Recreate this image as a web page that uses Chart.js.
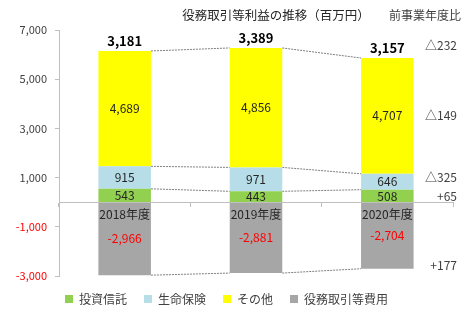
<!DOCTYPE html>
<html><head><meta charset="utf-8">
<script src="https://cdn.jsdelivr.net/npm/chart.js@4/dist/chart.umd.min.js"></script>
<style>html,body{margin:0;padding:0;background:#fff}#wrap{width:467px;height:325px;position:relative}</style>
</head><body><div id="wrap"><canvas id="c" width="467" height="325"></canvas></div>
<script>
const categories = ['2018年度', '2019年度', '2020年度'];
const seriesNames = ['投資信託', '生命保険', 'その他', '役務取引等費用'];
const investmentTrusts = [543, 443, 508];
const lifeInsurance = [915, 971, 646];
const others = [4689, 4856, 4707];
const costs = [-2966, -2881, -2704];
const totals = [3181, 3389, 3157];
const changeLabels = ['△232', '△149', '△325', '+65', '+177'];
const yTicks = [-3000, -1000, 1000, 3000, 5000, 7000];
const titleText = '役務取引等利益の推移（百万円）';
const changeHeader = '前事業年度比';

const FONT = '"Noto Sans CJK JP", "Noto Sans", sans-serif';
const fmt = v => v.toLocaleString('en-US');

const legendFitPlugin = {
  id: 'legendFit',
  beforeLayout(chart) {
    const lg = chart.legend;
    if (lg && !lg._patched) {
      const orig = lg.fit;
      lg.fit = function () { orig.call(this); this.height = 49; };
      lg._patched = true;
    }
  }
};

const connectorPlugin = {
  id: 'connectors',
  beforeDatasetsDraw(chart) {
    const ctx = chart.ctx;
    ctx.save();
    ctx.strokeStyle = '#7F7F7F';
    ctx.lineWidth = 1;
    ctx.setLineDash([2, 1]);
    chart.data.datasets.forEach((ds, di) => {
      const els = chart.getDatasetMeta(di).data;
      for (let i = 0; i < els.length - 1; i++) {
        const a = els[i], b = els[i + 1];
        ctx.beginPath();
        ctx.moveTo(a.x + a.width / 2, a.y);
        ctx.lineTo(b.x - b.width / 2, b.y);
        ctx.stroke();
      }
    });
    ctx.restore();
  }
};

const labelPlugin = {
  id: 'valueLabels',
  afterDatasetsDraw(chart) {
    const ctx = chart.ctx;
    ctx.save();
    ctx.textAlign = 'center';
    ctx.textBaseline = 'middle';
    chart.data.datasets.forEach((ds, di) => {
      chart.getDatasetMeta(di).data.forEach((el, i) => {
        const v = ds.data[i];
        ctx.font = '12px ' + FONT;
        ctx.fillStyle = v < 0 ? '#FF0000' : '#262626';
        ctx.fillText(fmt(v), el.x, (el.y + el.base) / 2);
      });
    });
    // totals
    const topEls = chart.getDatasetMeta(2).data;
    ctx.font = 'bold 13px ' + FONT;
    ctx.fillStyle = '#000000';
    totals.forEach((t, i) => {
      ctx.fillText(fmt(t), topEls[i].x, topEls[i].y - 10);
    });
    // change labels (vs previous year), anchored at last category's segments
    const last = categories.length - 1;
    const ca = chart.chartArea;
    const mid = di => { const e = chart.getDatasetMeta(di).data[last]; return (e.y + e.base) / 2; };
    const anchors = [topEls[last].y - 13, mid(2), mid(1) - 4, mid(0), mid(3) + 30];
    ctx.font = '12px ' + FONT;
    ctx.fillStyle = '#404040';
    ctx.textAlign = 'right';
    changeLabels.forEach((s, k) => ctx.fillText(s, ca.right + 4, anchors[k]));
    // title and header
    ctx.textAlign = 'center';
    ctx.font = '12.5px ' + FONT;
    ctx.fillStyle = '#262626';
    ctx.fillText(titleText, 276, 15);
    ctx.font = '12px ' + FONT;
    ctx.fillStyle = '#404040';
    ctx.fillText(changeHeader, 425, 15);
    ctx.restore();
  }
};

new Chart(document.getElementById('c'), {
  type: 'bar',
  data: {
    labels: categories,
    datasets: [
      { label: seriesNames[0], data: investmentTrusts, backgroundColor: '#92D050' },
      { label: seriesNames[1], data: lifeInsurance, backgroundColor: '#B7DEE8' },
      { label: seriesNames[2], data: others, backgroundColor: '#FFFF00' },
      { label: seriesNames[3], data: costs, backgroundColor: '#A6A6A6' }
    ]
  },
  options: {
    responsive: false,
    animation: false,
    devicePixelRatio: 1,
    datasets: { bar: { categoryPercentage: 1, barPercentage: 0.4, borderWidth: 0 } },
    layout: { padding: { top: 30, right: 14, left: 0, bottom: 0 } },
    plugins: {
      legend: {
        position: 'bottom',
        labels: { boxWidth: 8, boxHeight: 8, padding: 17, color: '#404040', font: { size: 12, family: FONT } }
      },
      tooltip: { enabled: false },
      title: { display: false }
    },
    scales: {
      x: {
        stacked: true,
        position: { y: 0 },
        grid: { drawOnChartArea: false, tickLength: 4, color: '#BFBFBF', offset: true },
        border: { color: '#BFBFBF', z: 1 },
        ticks: { color: '#262626', padding: 1, z: 1, font: { size: 12, family: FONT } }
      },
      y: {
        stacked: true,
        min: -3000,
        max: 7000,
        afterBuildTicks: s => { s.ticks = yTicks.map(v => ({ value: v })); },
        afterFit: s => { s.width = 59; },
        grid: { drawOnChartArea: false, tickLength: 4, color: '#BFBFBF' },
        border: { color: '#BFBFBF' },
        ticks: {
          padding: 8,
          font: { size: 11, family: FONT },
          color: c => (c.tick && c.tick.value < 0 ? '#FF0000' : '#404040'),
          callback: v => fmt(v)
        }
      }
    }
  },
  plugins: [legendFitPlugin, connectorPlugin, labelPlugin]
});
</script></body></html>
